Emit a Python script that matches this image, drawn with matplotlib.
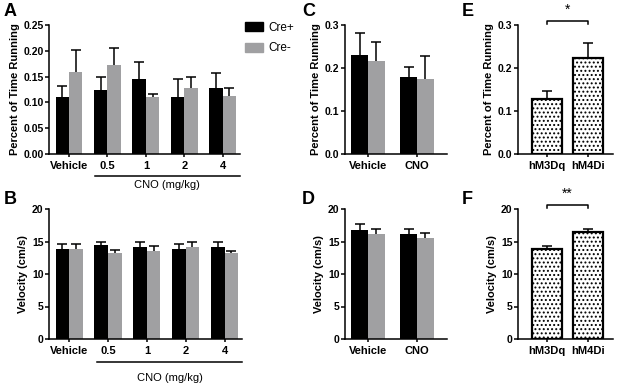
import numpy as np
import matplotlib
matplotlib.use('Agg')
import matplotlib.pyplot as plt
from matplotlib.patches import Patch

plt.rcParams['font.family'] = ['Liberation Sans', 'DejaVu Sans']
plt.rcParams['hatch.linewidth'] = 0.9

# data
doses = ['Vehicle', '0.5', '1', '2', '4']
a_pos = [0.111, 0.124, 0.145, 0.110, 0.128]
a_pos_err = [0.021, 0.025, 0.034, 0.036, 0.029]
a_neg = [0.158, 0.172, 0.110, 0.127, 0.112]
a_neg_err = [0.043, 0.033, 0.006, 0.023, 0.016]

b_pos = [13.9, 14.4, 14.1, 13.9, 14.1]
b_pos_err = [0.7, 0.6, 0.75, 0.7, 0.85]
b_neg = [13.9, 13.2, 13.6, 14.2, 13.3]
b_neg_err = [0.7, 0.5, 0.75, 0.75, 0.3]

treat = ['Vehicle', 'CNO']
c_pos = [0.230, 0.178]
c_pos_err = [0.052, 0.025]
c_neg = [0.217, 0.175]
c_neg_err = [0.044, 0.053]

d_pos = [16.8, 16.2]
d_pos_err = [0.95, 0.8]
d_neg = [16.1, 15.6]
d_neg_err = [0.75, 0.75]

dreadd = ['hM3Dq', 'hM4Di']
e_vals = [0.127, 0.224]
e_err = [0.020, 0.034]
f_vals = [13.8, 16.4]
f_err = [0.55, 0.6]

BLACK = '#000000'
GRAY = '#a0a0a2'
W, H = 617, 384

fig = plt.figure(figsize=(W / 100, H / 100), dpi=100)


def add_ax(left, right, top, bottom):
    return fig.add_axes([left / W, 1 - bottom / H, (right - left) / W, (bottom - top) / H])


def style(ax, ylim, yticks, yfmt, ylabel):
    ax.set_ylim(*ylim)
    ax.set_yticks(yticks)
    ax.set_yticklabels([yfmt.format(t) for t in yticks], fontweight='bold', fontsize=7.5)
    ax.set_ylabel(ylabel, fontweight='bold', fontsize=8, labelpad=2.5)
    for s in ['top', 'right']:
        ax.spines[s].set_visible(False)
    for s in ['left', 'bottom']:
        ax.spines[s].set_linewidth(1.1)
    ax.tick_params(width=1.1, length=3, pad=1)
    ax.tick_params(axis='x', length=2, pad=3)


def upper_err(ax, x, vals, err):
    top = np.array(vals) + np.array(err)
    ax.vlines(x, vals, top, color='black', lw=1.1, zorder=1)
    ax.plot(x, top, ls='none', marker='_', markersize=6.5, mew=1.1, color='black', zorder=1)


def grouped(ax, labels, pos, pos_err, neg, neg_err, w):
    x = np.arange(len(labels))
    upper_err(ax, x - w / 2, pos, pos_err)
    upper_err(ax, x + w / 2, neg, neg_err)
    ax.bar(x - w / 2, pos, w, color=BLACK, zorder=2)
    ax.bar(x + w / 2, neg, w, color=GRAY, zorder=2)
    ax.set_xticks(x)
    ax.set_xticklabels(labels, fontweight='bold', fontsize=8)


def dotted(ax, labels, vals, err):
    x = np.arange(len(labels))
    upper_err(ax, x, vals, err)
    ax.bar(x, vals, 0.73, color='white', edgecolor='black', linewidth=1.6, hatch='....', zorder=2)
    ax.set_xticks(x)
    ax.set_xticklabels(labels, fontweight='bold', fontsize=8)


def cno_bar(ax, x0, yline, ytext):
    ax.plot([x0, 1.0], [yline, yline], transform=ax.transAxes, color='black', lw=1.1, clip_on=False)
    ax.text((x0 + 1.0) / 2, ytext, 'CNO (mg/kg)', transform=ax.transAxes, ha='center', va='center',
            fontsize=8)


def bracket(ax, y, drop, ytext, star):
    ax.plot([0, 0, 1, 1], [y - drop, y, y, y - drop], color='black', lw=1.1, clip_on=False)
    ax.text(0.5, ytext, star, ha='center', va='center', fontsize=10)


# A
axA = add_ax(49, 240, 25, 154)
grouped(axA, doses, a_pos, a_pos_err, a_neg, a_neg_err, 0.35)
axA.set_xlim(-0.52, 4.45)
style(axA, (0, 0.25), [0, 0.05, 0.10, 0.15, 0.20, 0.25], '{:.2f}', 'Percent of Time Running')
cno_bar(axA, 0.24, -0.17, -0.24)
handles = [Patch(color=BLACK), Patch(color=GRAY)]
axA.legend(handles, ['Cre+', 'Cre-'], loc='upper left', bbox_to_anchor=(0.975, 1.1), frameon=False,
           fontsize=8.5, handlelength=1.55, handleheight=0.75, handletextpad=0.45, labelspacing=0.75,
           borderpad=0.3)

# B
axB = add_ax(49, 242, 209, 339)
grouped(axB, doses, b_pos, b_pos_err, b_neg, b_neg_err, 0.35)
axB.set_xlim(-0.52, 4.45)
style(axB, (0, 20), [0, 5, 10, 15, 20], '{:.0f}', 'Velocity (cm/s)')
cno_bar(axB, 0.25, -0.177, -0.30)

# C
axC = add_ax(345, 447, 25, 154)
grouped(axC, treat, c_pos, c_pos_err, c_neg, c_neg_err, 0.34)
axC.set_xlim(-0.47, 1.61)
style(axC, (0, 0.3), [0, 0.1, 0.2, 0.3], '{:.1f}', 'Percent of Time Running')

# D
axD = add_ax(345, 447, 209, 339)
grouped(axD, treat, d_pos, d_pos_err, d_neg, d_neg_err, 0.34)
axD.set_xlim(-0.47, 1.61)
style(axD, (0, 20), [0, 5, 10, 15, 20], '{:.0f}', 'Velocity (cm/s)')

# E
axE = add_ax(518, 613, 25, 154)
dotted(axE, dreadd, e_vals, e_err)
axE.set_xlim(-0.71, 1.61)
style(axE, (0, 0.3), [0, 0.1, 0.2, 0.3], '{:.1f}', 'Percent of Time Running')
bracket(axE, 0.309, 0.007, 0.335, '*')

# F
axF = add_ax(518, 613, 209, 339)
dotted(axF, dreadd, f_vals, f_err)
axF.set_xlim(-0.71, 1.61)
style(axF, (0, 20), [0, 5, 10, 15, 20], '{:.0f}', 'Velocity (cm/s)')
bracket(axF, 20.6, 0.5, 22.3, '**')

# panel letters
for letter, px, py in [('A', 4, 12), ('B', 4, 200), ('C', 302, 12), ('D', 302, 200),
                       ('E', 462, 12), ('F', 462, 200)]:
    fig.text(px / W, 1 - py / H, letter, fontsize=13, fontweight='bold', va='center', ha='left')

fig.savefig('out.png', dpi=100)
